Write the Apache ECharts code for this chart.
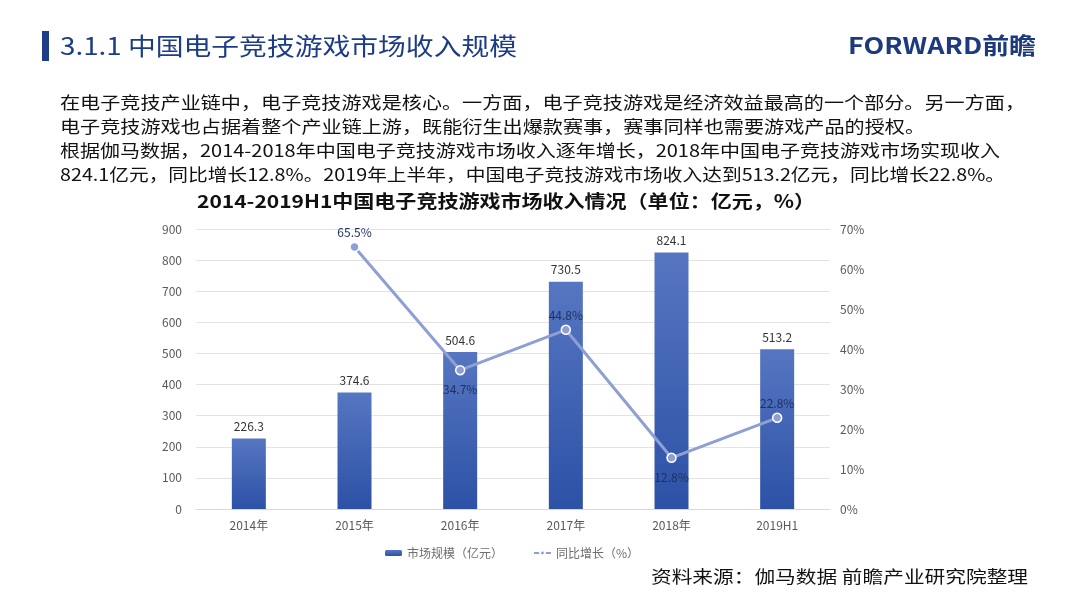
<!DOCTYPE html>
<html>
<head>
<meta charset="utf-8">
<script src="https://cdn.jsdelivr.net/npm/echarts@6/dist/echarts.min.js"></script>
<style>
html,body{margin:0;padding:0;background:#fff;}
#c{width:1080px;height:595px;}
</style>
</head>
<body>
<div id="c"></div>
<script>
const categories = ['2014年', '2015年', '2016年', '2017年', '2018年', '2019H1'];
const marketSize = [226.3, 374.6, 504.6, 730.5, 824.1, 513.2];
const growthRate = [null, 65.5, 34.7, 44.8, 12.8, 22.8];
const growthLabelPos = ['top', 'top', 'bottom', 'top', 'bottom', 'top'];
const seriesNames = ['市场规模（亿元）', '同比增长（%）'];
const headerText = '3.1.1 中国电子竞技游戏市场收入规模';
const logoText = 'FORWARD前瞻';
const chartTitle = '2014-2019H1中国电子竞技游戏市场收入情况（单位：亿元，%）';
const paragraph = [
  '在电子竞技产业链中，电子竞技游戏是核心。一方面，电子竞技游戏是经济效益最高的一个部分。另一方面，',
  '电子竞技游戏也占据着整个产业链上游，既能衍生出爆款赛事，赛事同样也需要游戏产品的授权。',
  '根据伽马数据，2014-2018年中国电子竞技游戏市场收入逐年增长，2018年中国电子竞技游戏市场实现收入',
  '824.1亿元，同比增长12.8%。2019年上半年，中国电子竞技游戏市场收入达到513.2亿元，同比增长22.8%。'
];
const paragraphWidths = [965, 865, 940, 945];
const sourceText = '资料来源：伽马数据 前瞻产业研究院整理';

const FONT = '"Noto Sans CJK SC", "Noto Sans", sans-serif';
const measureCtx = document.createElement('canvas').getContext('2d');
function fitScale(text, font, target) {
  measureCtx.font = font;
  return target / measureCtx.measureText(text).width;
}

const chart = echarts.init(document.getElementById('c'));

const hFont = '24px ' + FONT;
const lFont = 'bold 23px ' + FONT;
const tFont = 'bold 18px ' + FONT;
const sFont = '17px ' + FONT;
const pFont = '17px ' + FONT;

const graphics = [
  { type: 'rect', shape: { x: 42, y: 31, width: 7, height: 30 }, style: { fill: '#1F3C88' } },
  { type: 'text', x: 60, y: 46, scaleX: fitScale(headerText, hFont, 457), scaleY: 1,
    style: { text: headerText, font: hFont, fill: '#1D3C86', verticalAlign: 'middle' } },
  { type: 'text', x: 848, y: 45, scaleX: fitScale(logoText, lFont, 188),
    style: { text: logoText, font: lFont, fill: '#1D3B7C', verticalAlign: 'middle' } },
  { type: 'text', x: 506, y: 201, scaleX: fitScale(chartTitle, tFont, 618),
    style: { text: chartTitle, font: tFont, fill: '#111', align: 'center', verticalAlign: 'middle' } },
  { type: 'text', x: 651, y: 577, scaleX: fitScale(sourceText, sFont, 377),
    style: { text: sourceText, font: sFont, fill: '#111', verticalAlign: 'middle' } }
];
paragraph.forEach((t, i) => {
  graphics.push({ type: 'text', x: 60, y: 103 + i * 24, scaleX: fitScale(t, pFont, paragraphWidths[i]),
    style: { text: t, font: pFont, fill: '#111', verticalAlign: 'middle' } });
});

chart.setOption({
  backgroundColor: '#fff',
  graphic: graphics,
  legend: {
    top: 542, left: 380, itemGap: 30, itemWidth: 17, itemHeight: 6,
    textStyle: { fontFamily: FONT, fontSize: 12, color: '#6E6E6E' },
    data: [seriesNames[0], seriesNames[1]]
  },
  grid: { left: 196, right: 250, top: 229, bottom: 86 },
  xAxis: {
    type: 'category', data: categories,
    axisLine: { show: true, lineStyle: { color: '#D9D9D9' } },
    axisTick: { show: false },
    axisLabel: { color: '#595959', fontSize: 12, fontFamily: FONT, margin: 10 }
  },
  yAxis: [
    {
      type: 'value', min: 0, max: 900, interval: 100,
      axisLine: { show: false }, axisTick: { show: false },
      axisLabel: { color: '#595959', fontSize: 12, fontFamily: FONT, margin: 14 },
      splitLine: { lineStyle: { color: '#E3E3E3' } }
    },
    {
      type: 'value', min: 0, max: 70, interval: 10,
      axisLine: { show: false }, axisTick: { show: false },
      axisLabel: { color: '#595959', fontSize: 12, fontFamily: FONT, formatter: '{value}%', margin: 10 },
      splitLine: { show: false }
    }
  ],
  series: [
    {
      name: seriesNames[0], type: 'bar', data: marketSize, barWidth: 34,
      itemStyle: {
        color: new echarts.graphic.LinearGradient(0, 0, 0, 1, [
          { offset: 0, color: '#5676C1' },
          { offset: 1, color: '#2C51A6' }
        ])
      },
      label: { show: true, position: 'top', color: '#333', fontSize: 12, fontFamily: FONT, distance: 6 }
    },
    {
      name: seriesNames[1], type: 'line', yAxisIndex: 1,
      data: growthRate.map((v, i) => ({
        value: v,
        label: { position: growthLabelPos[i], distance: growthLabelPos[i] === 'top' ? 3 : 8 }
      })),
      symbol: 'circle', symbolSize: 9, connectNulls: false,
      lineStyle: { color: '#8E9FD3', width: 3 },
      itemStyle: { color: '#8E9FD3', borderColor: '#fff', borderWidth: 1.5 },
      label: { show: true, color: '#1F2F5F', fontSize: 12, fontFamily: FONT, formatter: p => p.value + '%' }
    }
  ]
});
</script>
</body>
</html>
